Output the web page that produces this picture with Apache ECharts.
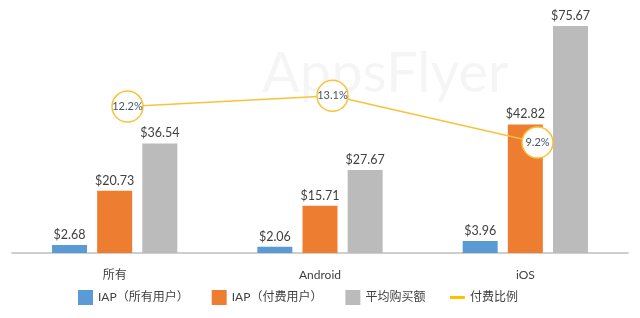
<!DOCTYPE html>
<html><head><meta charset="utf-8">
<script src="https://cdn.jsdelivr.net/npm/echarts@6/dist/echarts.min.js"></script>
<style>html,body{margin:0;padding:0;background:#fff}#c{width:640px;height:318px}</style>
</head><body><div id="c"></div>
<script>
const categories = ['所有', 'Android', 'iOS'];
const iapAll = [2.68, 2.06, 3.96];
const iapPaying = [20.73, 15.71, 42.82];
const avgPurchase = [36.54, 27.67, 75.67];
const payRatio = [12.2, 13.1, 9.2];
const seriesNames = ['IAP（所有用户）', 'IAP（付费用户）', '平均购买额', '付费比例'];

const FONT = 'Lato, "Noto Sans CJK SC", sans-serif';
const chart = echarts.init(document.getElementById('c'));
const barLabel = {show: true, position: 'top', distance: 4, fontSize: 12.5, color: '#404040', fontFamily: FONT,
  formatter: p => '$' + p.value.toFixed(2)};
chart.setOption({
  animation: false,
  textStyle: {fontFamily: FONT},
  graphic: [{type: 'text', left: 262, top: 46, z: -10, style: {text: 'AppsFlyer', fontSize: 56, fontFamily: 'Lato, sans-serif', fontWeight: 'normal', fill: 'rgba(0,0,0,0.04)'}}],
  legend: {
    left: 73, top: 285, itemWidth: 15, itemHeight: 15, itemGap: 23,
    textStyle: {fontSize: 12, color: '#404040', fontFamily: FONT},
    data: [
      {name: seriesNames[0], icon: 'rect'},
      {name: seriesNames[1], icon: 'rect'},
      {name: seriesNames[2], icon: 'rect'},
      {name: seriesNames[3], itemStyle: {opacity: 0}, lineStyle: {color: '#FFC000', width: 3}}
    ]
  },
  grid: [
    {left: 12, right: 12, top: 13, bottom: 65},
    {left: 25, right: 0, top: 13, bottom: 65}
  ],
  xAxis: [
    {type: 'category', data: categories, gridIndex: 0,
     axisLine: {lineStyle: {color: '#BFBFBF', width: 1.5}}, axisTick: {show: false},
     axisLabel: {margin: 16, fontSize: 12, color: '#404040', fontFamily: FONT}},
    {type: 'category', data: categories, gridIndex: 1, show: false}
  ],
  yAxis: [
    {type: 'value', min: 0, max: 80, gridIndex: 0, show: false, splitLine: {show: false}},
    {type: 'value', min: 0, max: 20, gridIndex: 1, show: false, splitLine: {show: false}}
  ],
  series: [
    {name: seriesNames[0], type: 'bar', data: iapAll, barWidth: 35, barGap: '29%', itemStyle: {color: '#5B9BD5'}, label: barLabel},
    {name: seriesNames[1], type: 'bar', data: iapPaying, barWidth: 35, barGap: '29%', itemStyle: {color: '#ED7D31'}, label: barLabel},
    {name: seriesNames[2], type: 'bar', data: avgPurchase, barWidth: 35, barGap: '29%', itemStyle: {color: '#BBBBBB'}, label: barLabel},
    {name: seriesNames[3], type: 'line', data: payRatio, xAxisIndex: 1, yAxisIndex: 1, z: 5,
     lineStyle: {color: '#FBC13A', width: 1.5}, symbol: 'circle', symbolSize: 31,
     itemStyle: {color: '#fff', borderColor: '#FBC13A', borderWidth: 1.5},
     label: {show: true, position: 'inside', fontSize: 11, color: '#44546A', fontFamily: FONT, formatter: p => p.value.toFixed(1) + '%'}}
  ]
});
</script></body></html>
